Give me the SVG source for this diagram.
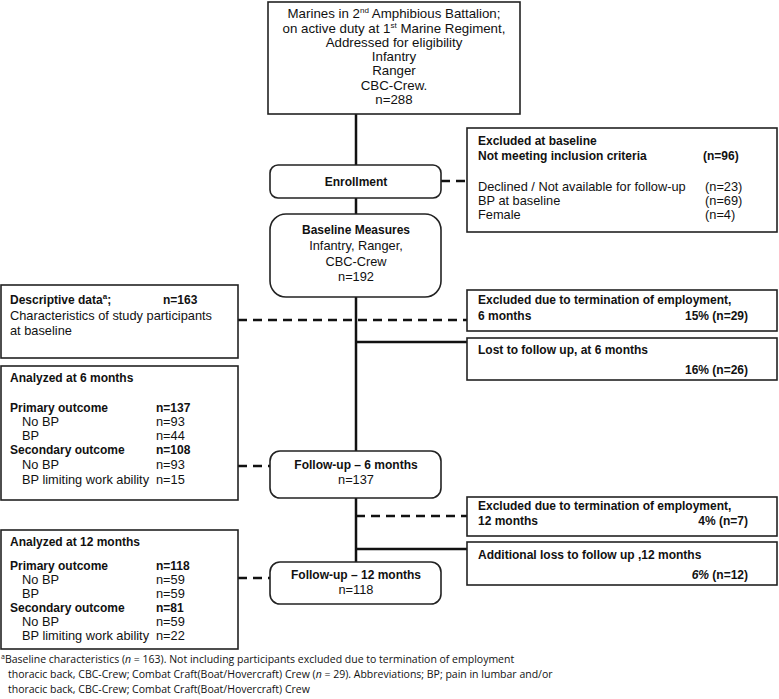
<svg xmlns="http://www.w3.org/2000/svg" width="779" height="699" viewBox="0 0 779 699">
<style>
text{font-family:"Liberation Sans",Arial,sans-serif;font-size:12.8px;fill:#111}
.b{font-weight:bold;font-size:12px}
.c{text-anchor:middle}
.e{text-anchor:end}
.t{font-size:13.3px}
.box{fill:#fff;stroke:#222;stroke-width:1.6}
.ln{stroke:#111;stroke-width:2.5;fill:none}
.dash{stroke:#111;stroke-width:2.5;fill:none;stroke-dasharray:9 6}
.sup{font-size:8px}
.fn{font-family:"Open Sans","Liberation Sans",sans-serif;font-size:10.5px}
</style>
<rect width="779" height="699" fill="#fff"/>
<g id="connectors">
<line class="ln" x1="356" y1="114" x2="356" y2="562"/>
<line class="dash" x1="441" y1="181" x2="467" y2="181"/>
<line class="dash" x1="238" y1="320" x2="467" y2="320"/>
<line class="ln" x1="356" y1="342" x2="467" y2="342"/>
<line class="dash" x1="238" y1="466" x2="270" y2="466"/>
<line class="dash" x1="356" y1="516" x2="467" y2="516"/>
<line class="ln" x1="356" y1="549" x2="467" y2="549"/>
<line class="dash" x1="238" y1="578" x2="270" y2="578"/>
</g>
<g id="top">
<rect class="box" x="268" y="2" width="252" height="112"/>
<text class="c t" x="394" y="18">Marines in 2<tspan class="sup" dy="-5">nd</tspan><tspan dy="5"> Amphibious Battalion;</tspan></text>
<text class="c t" x="394" y="33">on active duty at 1<tspan class="sup" dy="-5">st</tspan><tspan dy="5"> Marine Regiment,</tspan></text>
<text class="c t" x="394" y="47">Addressed for eligibility</text>
<text class="c t" x="394" y="61">Infantry</text>
<text class="c t" x="394" y="75">Ranger</text>
<text class="c t" x="394" y="90">CBC-Crew.</text>
<text class="c t" x="394" y="104">n=288</text>
</g>
<g id="enrollment">
<rect class="box" x="270" y="165" width="171" height="33" rx="8"/>
<text class="c b" x="356" y="186">Enrollment</text>
</g>
<g id="excluded-baseline">
<rect class="box" x="467" y="128" width="310" height="104"/>
<text class="b" x="478" y="145">Excluded at baseline</text>
<text class="b" x="478" y="160">Not meeting inclusion criteria</text>
<text class="b" x="703" y="160">(n=96)</text>
<text x="478" y="191">Declined / Not available for follow-up</text>
<text x="705" y="191">(n=23)</text>
<text x="478" y="205">BP at baseline</text>
<text x="705" y="205">(n=69)</text>
<text x="478" y="219">Female</text>
<text x="705" y="219">(n=4)</text>
</g>
<g id="baseline">
<rect class="box" x="270" y="214" width="171" height="83" rx="16"/>
<text class="c b" x="356" y="234">Baseline Measures</text>
<text class="c" x="356" y="250">Infantry, Ranger,</text>
<text class="c" x="356" y="266">CBC-Crew</text>
<text class="c" x="356" y="281">n=192</text>
</g>
<g id="descriptive">
<rect class="box" x="1" y="285" width="237" height="73"/>
<text class="b" x="10" y="304">Descriptive data<tspan class="sup" dy="-5">a</tspan><tspan dy="5">;</tspan></text>
<text class="b" x="163" y="304">n=163</text>
<text x="10" y="320">Characteristics of study participants</text>
<text x="10" y="335">at baseline</text>
</g>
<g id="excluded-6">
<rect class="box" x="467" y="290" width="310" height="41"/>
<text class="b" x="478" y="304">Excluded due to termination of employment,</text>
<text class="b" x="478" y="320">6 months</text>
<text class="b e" x="748" y="320">15%  (n=29)</text>
</g>
<g id="lost-6">
<rect class="box" x="467" y="338" width="310" height="42"/>
<text class="b" x="478" y="354">Lost to follow up, at 6 months</text>
<text class="b e" x="748" y="374">16%  (n=26)</text>
</g>
<g id="analyzed-6">
<rect class="box" x="1" y="366" width="237" height="134"/>
<text class="b" x="10" y="382">Analyzed at 6 months</text>
<text class="b" x="10" y="412">Primary outcome</text>
<text class="b" x="156" y="412">n=137</text>
<text x="22" y="426">No BP</text>
<text x="156" y="426">n=93</text>
<text x="22" y="440">BP</text>
<text x="156" y="440">n=44</text>
<text class="b" x="10" y="454">Secondary outcome</text>
<text class="b" x="156" y="454">n=108</text>
<text x="22" y="469">No BP</text>
<text x="156" y="469">n=93</text>
<text x="22" y="484">BP limiting work ability</text>
<text x="156" y="484">n=15</text>
</g>
<g id="followup-6">
<rect class="box" x="270" y="451" width="171" height="47" rx="10"/>
<text class="c b" x="356" y="469">Follow-up – 6 months</text>
<text class="c" x="356" y="484">n=137</text>
</g>
<g id="excluded-12">
<rect class="box" x="467" y="497" width="310" height="39"/>
<text class="b" x="478" y="510">Excluded due to termination of employment,</text>
<text class="b" x="478" y="525">12 months</text>
<text class="b e" x="748" y="525">4%    (n=7)</text>
</g>
<g id="loss-12">
<rect class="box" x="467" y="542" width="310" height="43"/>
<text class="b" x="478" y="559">Additional loss to follow up ,12 months</text>
<text class="b e" x="748" y="579"><tspan font-style="italic">6%</tspan>    (n=12)</text>
</g>
<g id="analyzed-12">
<rect class="box" x="1" y="530" width="237" height="119"/>
<text class="b" x="10" y="546">Analyzed at 12 months</text>
<text class="b" x="10" y="570">Primary outcome</text>
<text class="b" x="156" y="570">n=118</text>
<text x="22" y="584">No BP</text>
<text x="156" y="584">n=59</text>
<text x="22" y="598">BP</text>
<text x="156" y="598">n=59</text>
<text class="b" x="10" y="612">Secondary outcome</text>
<text class="b" x="156" y="612">n=81</text>
<text x="22" y="626">No BP</text>
<text x="156" y="626">n=59</text>
<text x="22" y="640">BP limiting work ability</text>
<text x="156" y="640">n=22</text>
</g>
<g id="followup-12">
<rect class="box" x="270" y="562" width="171" height="42" rx="10"/>
<text class="c b" x="356" y="579">Follow-up – 12 months</text>
<text class="c" x="356" y="594">n=118</text>
</g>
<g id="footnote">
<text class="fn" x="1" y="663"><tspan font-size="7" dy="-4">a</tspan><tspan dy="4">Baseline characteristics (</tspan><tspan font-style="italic">n</tspan> = 163). Not including participants excluded due to termination of employment</text>
<text class="fn" x="8" y="678">thoracic back, CBC-Crew; Combat Craft(Boat/Hovercraft) Crew  (<tspan font-style="italic">n</tspan> = 29). Abbreviations; BP; pain in lumbar and/or</text>
<text class="fn" x="8" y="693">thoracic back, CBC-Crew; Combat Craft(Boat/Hovercraft) Crew</text>
</g>
</svg>
